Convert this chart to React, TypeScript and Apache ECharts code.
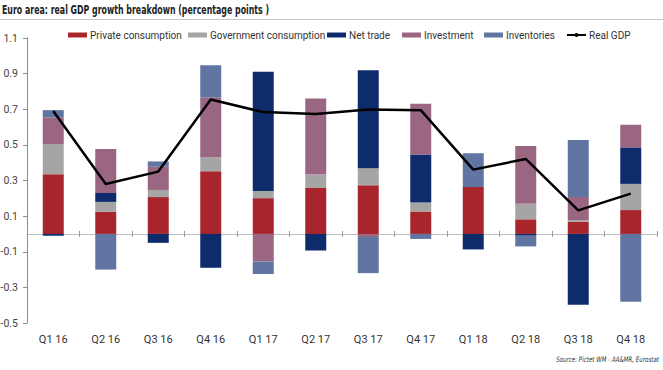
import React, { useEffect, useRef } from 'react';
import * as echarts from 'echarts';

const categories = ['Q1 16', 'Q2 16', 'Q3 16', 'Q4 16', 'Q1 17', 'Q2 17', 'Q3 17', 'Q4 17', 'Q1 18', 'Q2 18', 'Q3 18', 'Q4 18'];
const privateConsumption = [0.335, 0.125, 0.207, 0.352, 0.201, 0.258, 0.273, 0.126, 0.263, 0.082, 0.068, 0.134];
const governmentConsumption = [0.17, 0.055, 0.04, 0.077, 0.04, 0.075, 0.096, 0.05, 0, 0.087, 0.01, 0.147];
const netTrade = [-0.01, 0.05, -0.05, -0.19, 0.67, -0.093, 0.55, 0.27, -0.087, -0.01, -0.398, 0.205];
const investment = [0.15, 0.247, 0.13, 0.338, -0.155, 0.427, -0.017, 0.285, 0, 0.324, 0.13, 0.127];
const inventories = [0.04, -0.2, 0.03, 0.18, -0.07, 0, -0.203, -0.028, 0.19, -0.06, 0.32, -0.38];
const realGDP = [0.69, 0.28, 0.35, 0.755, 0.684, 0.674, 0.698, 0.695, 0.361, 0.421, 0.132, 0.226];
const yTicks = [-0.5, -0.3, -0.1, 0.1, 0.3, 0.5, 0.7, 0.9, 1.1];

const FONT = 'Roboto, "Liberation Sans", sans-serif';
const WIDE = '"DejaVu Sans", sans-serif';

const barSeries = [
  { name: 'Private consumption', data: privateConsumption, color: '#a8262b' },
  { name: 'Government consumption', data: governmentConsumption, color: '#a5a5a5' },
  { name: 'Net trade', data: netTrade, color: '#0e2c6c' },
  { name: 'Investment', data: investment, color: '#9b6681' },
  { name: 'Inventories', data: inventories, color: '#6175a3' },
];
const legendLefts = [68, 188, 327, 402, 484, 566];

export default function App() {
  const ref = useRef<HTMLDivElement>(null);
  useEffect(() => {
    if (!ref.current) return;
    const chart = echarts.init(ref.current, null, { renderer: 'svg' });
    const legendNames = [...barSeries.map((s) => s.name), 'Real GDP'];
    chart.setOption({
      animation: false,
      grid: { left: 27, right: 6, top: 38, bottom: 47, containLabel: false, outerBoundsMode: 'none' },
      legend: legendNames.map((n, i) => ({
        data: [n],
        left: legendLefts[i],
        top: 30,
        padding: 0,
        itemWidth: 19,
        itemHeight: 5,
        icon: n === 'Real GDP' ? undefined : 'rect',
        textStyle: { fontFamily: FONT, fontSize: 10, color: '#333', padding: [0, 0, 0, -2] },
        selectedMode: false,
      })),
      xAxis: [
        {
          type: 'category',
          data: categories,
          position: 'bottom',
          axisLine: { show: false, onZero: false },
          axisTick: { show: false },
          axisLabel: { margin: 11, fontFamily: FONT, fontSize: 11, color: '#333' },
          splitLine: { show: false },
        },
        {
          type: 'category',
          data: categories,
          position: 'bottom',
          axisLine: { show: true, onZero: true, onZeroAxisIndex: 0, lineStyle: { color: '#bdbdbd', width: 1 } },
          axisTick: { show: true, length: 3, lineStyle: { color: '#9a9a9a' } },
          axisLabel: { show: false },
          splitLine: { show: false },
        },
        {
          type: 'category',
          data: categories,
          position: 'top',
          axisLine: { show: false, onZero: true, onZeroAxisIndex: 0 },
          axisTick: { show: true, length: 3, lineStyle: { color: '#9a9a9a' } },
          axisLabel: { show: false },
          splitLine: { show: false },
        },
      ],
      yAxis: [
        {
          type: 'value',
          min: -0.5,
          max: 1.1,
          axisLine: { show: true, lineStyle: { color: '#8c8c8c' } },
          axisTick: { show: true, length: 4, customValues: yTicks, lineStyle: { color: '#8c8c8c' } },
          axisLabel: {
            customValues: yTicks,
            formatter: (v: number) => v.toFixed(1),
            margin: 9,
            fontFamily: FONT,
            fontSize: 10.5,
            color: '#444',
          },
          splitLine: { show: false },
        },
      ],
      series: [
        ...barSeries.map((s) => ({
          name: s.name,
          type: 'bar',
          stack: 'total',
          data: s.data,
          barWidth: 21,
          xAxisIndex: 0,
          yAxisIndex: 0,
          itemStyle: { color: s.color },
          emphasis: { disabled: true },
        })),
        {
          name: 'Real GDP',
          type: 'line',
          data: realGDP,
          symbol: 'none',
          xAxisIndex: 0,
          yAxisIndex: 0,
          z: 5,
          lineStyle: { color: '#000', width: 2.5 },
          itemStyle: { color: '#000' },
          emphasis: { disabled: true },
        },
      ],
      graphic: [
        {
          type: 'text',
          x: 2,
          y: 3,
          scaleX: 0.605,
          style: {
            text: 'Euro area: real GDP growth breakdown (percentage points )',
            font: `bold 13px ${WIDE}`,
            fill: '#222',
            verticalAlign: 'top',
          },
        },
        {
          type: 'line',
          shape: { x1: 0, y1: 19.5, x2: 663, y2: 19.5 },
          style: { stroke: '#c8c8c8', lineWidth: 1 },
        },
        {
          type: 'text',
          x: 659,
          y: 360,
          scaleX: 0.735,
          style: {
            text: 'Source: Pictet WM - AA&MR, Eurostat',
            font: `italic 7.5px ${WIDE}`,
            fill: '#333',
            align: 'right',
            verticalAlign: 'middle',
          },
        },
      ],
    });
    return () => chart.dispose();
  }, []);
  return <div ref={ref} style={{ position: 'absolute', left: 0, top: 0, width: 663, height: 370 }} />;
}
